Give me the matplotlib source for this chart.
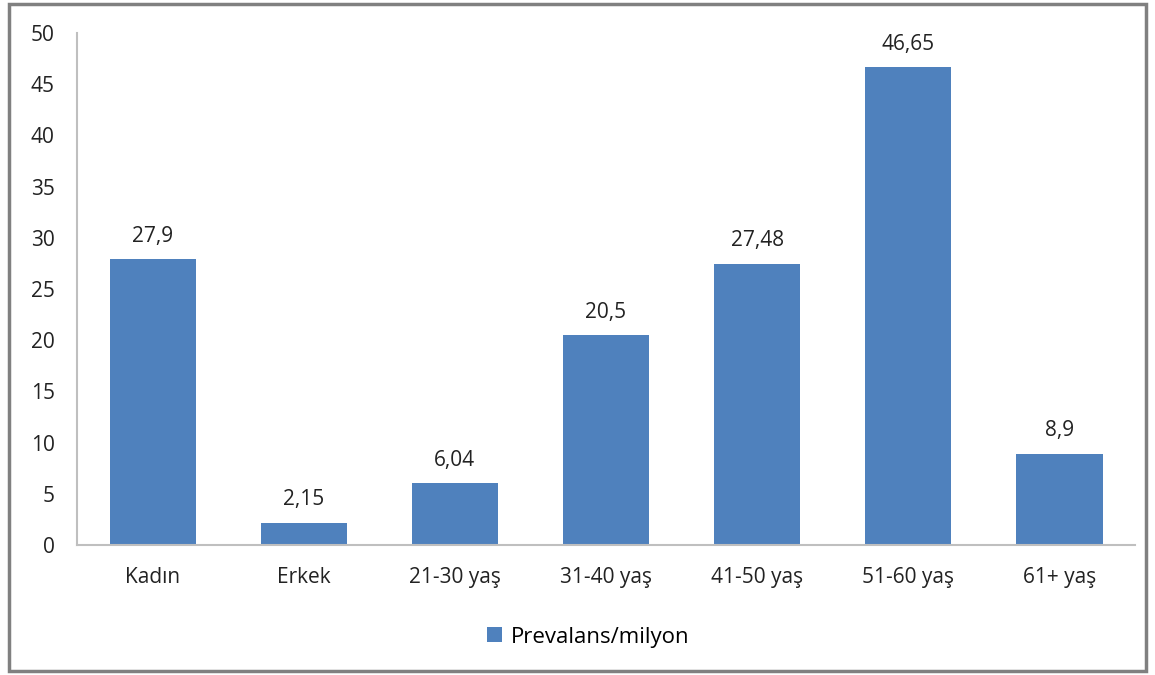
import matplotlib
matplotlib.use('Agg')
import matplotlib.pyplot as plt
from matplotlib.patches import Rectangle

# veriler
categories = ['Kadın', 'Erkek', '21-30 yaş', '31-40 yaş', '41-50 yaş', '51-60 yaş', '61+ yaş']
values = [27.9, 2.15, 6.04, 20.5, 27.48, 46.65, 8.9]
value_labels = ['27,9', '2,15', '6,04', '20,5', '27,48', '46,65', '8,9']
series_name = 'Prevalans/milyon'
yticks = [0, 5, 10, 15, 20, 25, 30, 35, 40, 45, 50]

plt.rcParams['font.family'] = ['Open Sans', 'DejaVu Sans']
fs = 15

fig = plt.figure(figsize=(11.55, 6.75), dpi=100)
ax = fig.add_axes([0.0667, 0.1926, 0.916, 0.7584])

x = range(len(categories))
bars = ax.bar(x, values, width=0.57, color='#4F81BD', label=series_name)

for bar, lab in zip(bars, value_labels):
    ax.annotate(lab, (bar.get_x() + bar.get_width() / 2, bar.get_height()),
                xytext=(0, 9), textcoords='offset points',
                ha='center', va='bottom', fontsize=fs, color='#222222')

ax.set_xlim(-0.5, len(categories) - 0.5)
ax.set_ylim(0, 50)
ax.set_yticks(yticks)
ax.set_xticks(list(x))
ax.set_xticklabels(categories)
ax.tick_params(axis='both', length=0, labelsize=fs, colors='#222222')
ax.tick_params(axis='x', pad=16)
ax.tick_params(axis='y', pad=16)

for side in ['top', 'right']:
    ax.spines[side].set_visible(False)
for side in ['left', 'bottom']:
    ax.spines[side].set_color('#BFBFBF')
    ax.spines[side].set_linewidth(1.5)

ax.legend(loc='center', bbox_to_anchor=(0.483, -0.18), frameon=False,
          fontsize=fs + 1, handlelength=0.65, handleheight=0.65, handletextpad=0.4)

# dış çerçeve
fig.add_artist(Rectangle((0.008, 0.006), 0.984, 0.988, transform=fig.transFigure,
                         fill=False, edgecolor='#808080', linewidth=2.5))

fig.savefig('out.png', dpi=100)
